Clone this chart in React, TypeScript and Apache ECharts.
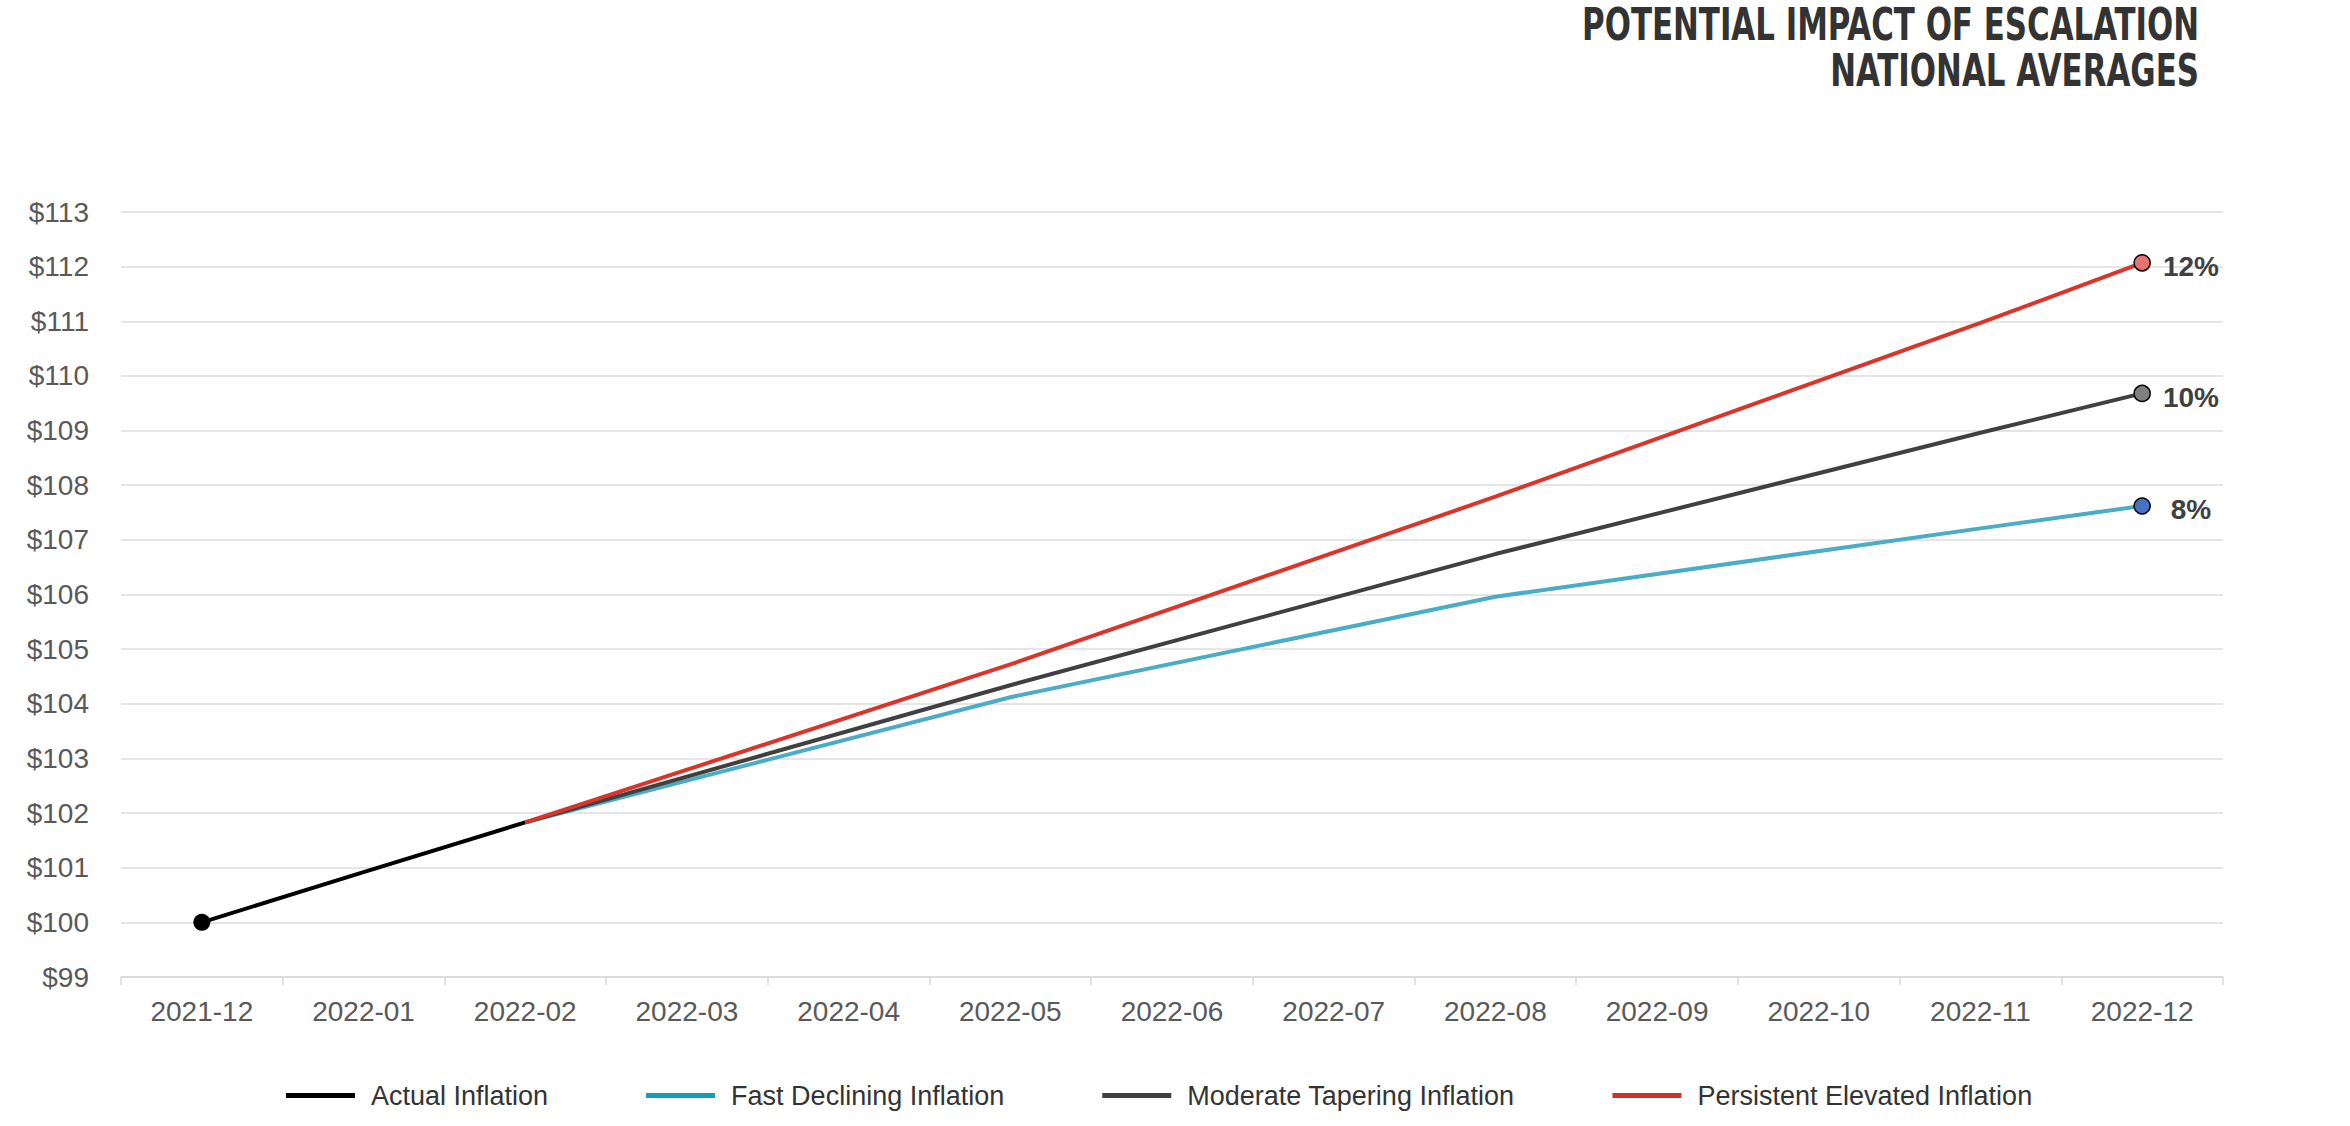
import React, { useEffect, useRef } from "react";
import * as echarts from "echarts";

const months = [
  "2021-12", "2022-01", "2022-02", "2022-03", "2022-04", "2022-05", "2022-06",
  "2022-07", "2022-08", "2022-09", "2022-10", "2022-11", "2022-12",
];

const actualInflation = [100, 100.92, 101.83, null, null, null, null, null, null, null, null, null, null];
const fastDeclining = [null, null, 101.83, null, null, 104.12, null, null, 105.96, null, null, 107.21, 107.62];
const moderateTapering = [null, null, 101.83, null, null, 104.34, null, null, 106.74, null, null, 108.96, 109.68];
const persistentElevated = [null, null, 101.83, null, null, 104.72, null, null, 107.79, null, null, 110.97, 112.07];

const seriesNames = [
  "Actual Inflation",
  "Fast Declining Inflation",
  "Moderate Tapering Inflation",
  "Persistent Elevated Inflation",
];
const endLabels = ["", "8%", "10%", "12%"];
const lineColors = ["#000000", "#4BACC6", "#404040", "#D9352B"];
const legendColors = ["#000000", "#129EB3", "#404040", "#C8352F"];
const markerColors = ["#000000", "#4472C4", "#808080", "#E87272"];

const yMin = 99;
const yMax = 113;
const yStep = 1;

const titleLines = ["POTENTIAL IMPACT OF ESCALATION", "NATIONAL AVERAGES"];

const FONT = "'Liberation Sans', Arial, Helvetica, sans-serif";

function buildData(values: (number | null)[], idx: number) {
  let last = -1;
  let first = -1;
  values.forEach((v, i) => {
    if (v !== null) {
      if (first < 0) first = i;
      last = i;
    }
  });
  return values.map((v, i) => {
    if (idx === 0 && i === first) {
      return {
        value: v,
        symbol: "circle",
        symbolSize: 17,
        itemStyle: { color: markerColors[0], borderWidth: 0 },
      };
    }
    if (idx > 0 && i === last) {
      return {
        value: v,
        symbol: "circle",
        symbolSize: 16,
        itemStyle: { color: markerColors[idx], borderColor: "#000", borderWidth: 1.5 },
        label: {
          show: true,
          formatter: endLabels[idx],
          position: "right",
          distance: 40,
          align: "center",
          offset: [0, 4],
          fontSize: 28,
          fontWeight: "bold",
          fontFamily: FONT,
          color: "#404040",
        },
      };
    }
    return v;
  });
}

export default function App() {
  const ref = useRef<HTMLDivElement>(null);

  useEffect(() => {
    if (!ref.current) return;
    const chart = echarts.init(ref.current, undefined, { renderer: "svg" });
    const allValues = [actualInflation, fastDeclining, moderateTapering, persistentElevated];

    chart.setOption({
      animation: false,
      backgroundColor: "#ffffff",
      textStyle: { fontFamily: FONT },
      grid: { left: 121, right: 127, top: 212, bottom: 149, containLabel: false },
      graphic: titleLines.map((t, i) => ({
        type: "text",
        x: 2199,
        y: 24 + i * 46,
        scaleX: 0.78,
        style: {
          text: t,
          fontSize: 44,
          lineHeight: 40,
          fontWeight: "bold",
          fontFamily: "'Liberation Sans Narrow', 'DejaVu Sans Condensed', sans-serif",
          fill: "#333333",
          textAlign: "right",
          textVerticalAlign: "middle",
        },
      })),
      legend: {
        left: 281,
        top: 1077,
        itemWidth: 69,
        itemHeight: 5,
        itemGap: 98,
        textStyle: {
          fontSize: 27,
          color: "#333333",
          fontFamily: FONT,
          padding: [0, 0, 0, 11],
        },
        data: seriesNames.map((n, i) => ({
          name: n,
          icon: "rect",
          itemStyle: { color: legendColors[i] },
        })),
      },
      xAxis: {
        type: "category",
        data: months,
        boundaryGap: true,
        axisLine: { show: true, lineStyle: { color: "#d9d9d9", width: 1.5 } },
        axisTick: { show: true, length: 8, lineStyle: { color: "#d9d9d9", width: 1.5 } },
        axisLabel: { fontSize: 28, color: "#595959", margin: 20, fontFamily: FONT },
        splitLine: { show: false },
      },
      yAxis: {
        type: "value",
        min: yMin,
        max: yMax,
        interval: yStep,
        axisLine: { show: false },
        axisTick: { show: false },
        axisLabel: {
          fontSize: 28,
          color: "#595959",
          margin: 32,
          fontFamily: FONT,
          formatter: (v: number) => "$" + v,
        },
        splitLine: { show: true, lineStyle: { color: "#dcdcdc", width: 1.5 } },
      },
      series: seriesNames.map((n, i) => ({
        name: n,
        type: "line",
        data: buildData(allValues[i], i),
        connectNulls: true,
        symbol: "none",
        showSymbol: true,
        z: 2 + i,
        itemStyle: { color: legendColors[i] },
        lineStyle: { color: lineColors[i], width: 4 },
        emphasis: { disabled: true },
      })),
    });

    return () => chart.dispose();
  }, []);

  return (
    <div
      ref={ref}
      style={{ position: "fixed", left: 0, top: 0, width: 2350, height: 1126, background: "#fff" }}
    />
  );
}
